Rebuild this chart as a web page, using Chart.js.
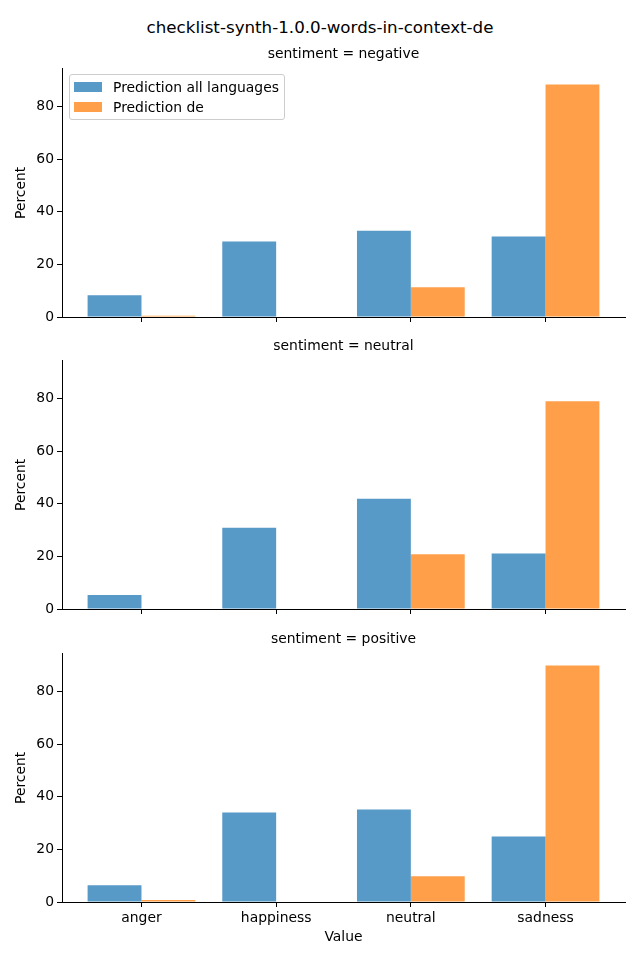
<!DOCTYPE html>
<html>
<head>
<meta charset="utf-8">
<script src="https://cdn.jsdelivr.net/npm/chart.js@4.4.1/dist/chart.umd.min.js"></script>
<style>
  body { margin: 0; background: #fff; font-family: "DejaVu Sans", sans-serif; }
  #page { position: relative; width: 640px; height: 960px; }
  #figTitle { position: absolute; left: 0; top: 16px; width: 640px; text-align: center;
              font-size: 16.7px; line-height: 22px; color: #000; }
  .panel { position: absolute; left: 0; }
  #legend { position: absolute; left: 69px; top: 74px; width: 216px; height: 46px; box-sizing: border-box;
            border: 1px solid #cccccc; border-radius: 3px; background: rgba(255,255,255,0.8);
            padding: 2px 0 0 4px; font-size: 13.9px; color: #000; }
  .row { height: 20px; display: flex; align-items: center; }
  .patch { width: 28px; height: 10px; margin-right: 11px; }
</style>
</head>
<body>
<div id="page">
  <div id="figTitle">checklist-synth-1.0.0-words-in-context-de</div>
  <canvas id="c0" class="panel" width="640" height="290" style="top:40px"></canvas>
  <canvas id="c1" class="panel" width="640" height="290" style="top:332px"></canvas>
  <canvas id="c2" class="panel" width="640" height="327" style="top:625px"></canvas>
  <div id="legend"></div>
</div>
<script>
  // ---- data ----
  const categories   = ["anger", "happiness", "neutral", "sadness"];
  const panelTitles  = ["sentiment = negative", "sentiment = neutral", "sentiment = positive"];
  const seriesNames  = ["Prediction all languages", "Prediction de"];

  const negativeAll  = [8.3, 28.7, 32.8, 30.6];
  const negativeDe   = [0.5, 0, 11.3, 88.3];
  const neutralAll   = [5.3, 30.9, 41.9, 21.1];
  const neutralDe    = [0, 0, 20.8, 78.9];
  const positiveAll  = [6.4, 34.0, 35.1, 24.9];
  const positiveDe   = [0.75, 0, 9.8, 89.8];

  const yTicks = [0, 20, 40, 60, 80];

  const colorAll = "rgb(87,153,199)";
  const colorDe  = "rgb(255,159,74)";

  Chart.defaults.font.family = "'DejaVu Sans', sans-serif";
  Chart.defaults.color = "#000";

  function toPoints(values)
  {
      return values.map((v, i) => ({ x: i, y: v }));
  }

  /**==========================================================
   *   function makePanel(canvasId, title, allValues, deValues, isLast)
   ==========================================================*/
  function makePanel(canvasId, title, allValues, deValues, isLast)
  {
      const ctx = document.getElementById(canvasId);
      return new Chart(ctx, {
          type: 'bar',
          data: {
              datasets: [
                  { label: seriesNames[0], data: toPoints(allValues), backgroundColor: colorAll, borderWidth: 0 },
                  { label: seriesNames[1], data: toPoints(deValues), backgroundColor: colorDe, borderWidth: 0 }
              ]
          },
          options: {
              responsive: false,
              animation: false,
              devicePixelRatio: 1,
              categoryPercentage: 0.8,
              barPercentage: 1.0,
              layout: { padding: { left: 0, right: 15, top: 0, bottom: 0 } },
              plugins: {
                  legend: { display: false },
                  tooltip: { enabled: false },
                  title: {
                      display: true, text: title, fullSize: false,
                      font: { size: 13.9, weight: 'normal' }, color: '#000',
                      padding: { top: 6, bottom: 6 }
                  }
              },
              scales: {
                  x: {
                      type: 'linear', min: -0.59, max: 3.59, offset: false,
                      afterBuildTicks: (s) => { s.ticks = categories.map((c, i) => ({ value: i })); },
                      afterFit: (s) => { s.height = isLast ? 50 : 13; },
                      ticks: {
                          autoSkip: false, maxRotation: 0, padding: 3,
                          font: { size: 13.9 }, color: '#000',
                          callback: (v) => isLast ? categories[v] : ''
                      },
                      grid: { display: true, offset: false, drawOnChartArea: false, drawTicks: true, tickLength: 5, color: '#000', lineWidth: 1 },
                      border: { display: true, color: '#000', width: 1 },
                      title: {
                          display: isLast, text: 'Value', color: '#000',
                          font: { size: 13.9 }, padding: { top: 0, bottom: 6.6 }
                      }
                  },
                  y: {
                      min: 0, max: 94.3,
                      afterBuildTicks: (s) => { s.ticks = yTicks.map(v => ({ value: v })); },
                      afterFit: (s) => { s.width = 62; },
                      ticks: { padding: 3, font: { size: 13.9 }, color: '#000' },
                      grid: { display: true, drawOnChartArea: false, drawTicks: true, tickLength: 5, color: '#000', lineWidth: 1 },
                      border: { display: true, color: '#000', width: 1 },
                      title: {
                          display: true, text: 'Percent', color: '#000',
                          font: { size: 13.9 }, padding: { top: 12.6, bottom: 0 }
                      }
                  }
              }
          }
      });
  }

  makePanel("c0", panelTitles[0], negativeAll, negativeDe, false);
  makePanel("c1", panelTitles[1], neutralAll, neutralDe, false);
  makePanel("c2", panelTitles[2], positiveAll, positiveDe, true);

  // legend box (only in the first panel)
  const legendColors = [colorAll, colorDe];
  const legendDiv = document.getElementById("legend");
  seriesNames.forEach((name, i) => {
      const row = document.createElement("div");
      row.className = "row";
      const patch = document.createElement("div");
      patch.className = "patch";
      patch.style.background = legendColors[i];
      const txt = document.createElement("span");
      txt.textContent = name;
      row.appendChild(patch);
      row.appendChild(txt);
      legendDiv.appendChild(row);
  });
</script>
</body>
</html>
